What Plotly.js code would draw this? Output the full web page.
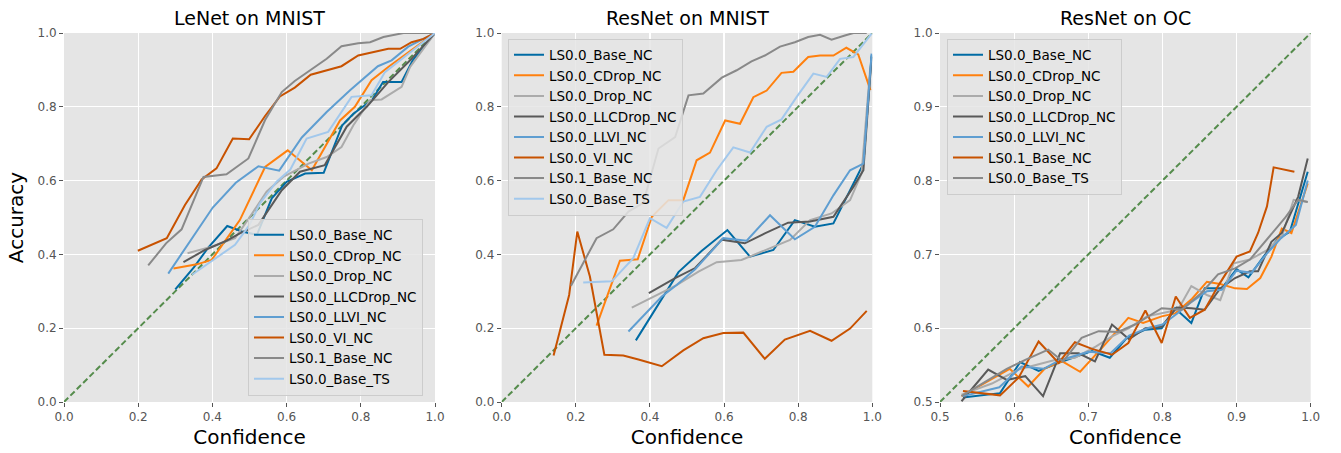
<!DOCTYPE html>
<html>
<head>
<meta charset="utf-8">
<script src="https://cdn.plot.ly/plotly-3.0.1.min.js"></script>
<style>html,body{margin:0;padding:0;background:#fff;}#chart{width:1341px;height:453px;}</style>
</head>
<body>
<div id="chart"></div>
<script>
// ---------- Panel 1: LeNet on MNIST ----------
const p1_base_nc_x = [0.30,0.35,0.39,0.44,0.48,0.52,0.56,0.60,0.65,0.70,0.75,0.78,0.83,0.86,0.91,0.94,1.00];
const p1_base_nc_y = [0.305,0.365,0.42,0.477,0.462,0.453,0.552,0.597,0.619,0.621,0.75,0.781,0.818,0.867,0.867,0.926,1.0];
const p1_cdrop_x = [0.295,0.358,0.398,0.474,0.542,0.603,0.668,0.708,0.744,0.784,0.829,0.874,0.937,1.0];
const p1_cdrop_y = [0.362,0.373,0.385,0.493,0.637,0.682,0.628,0.70,0.763,0.80,0.872,0.908,0.953,1.0];
const p1_drop_x = [0.333,0.398,0.461,0.50,0.546,0.591,0.659,0.708,0.748,0.78,0.825,0.856,0.91,0.933,1.0];
const p1_drop_y = [0.403,0.421,0.444,0.50,0.570,0.61,0.646,0.664,0.691,0.75,0.818,0.82,0.854,0.908,1.0];
const p1_llcdrop_x = [0.322,0.38,0.438,0.474,0.524,0.587,0.636,0.703,0.762,0.816,0.874,0.933,1.0];
const p1_llcdrop_y = [0.379,0.412,0.437,0.457,0.48,0.574,0.624,0.642,0.746,0.80,0.867,0.926,1.0];
const p1_llvi_x = [0.281,0.401,0.463,0.524,0.58,0.641,0.708,0.771,0.846,0.883,0.928,1.0];
const p1_llvi_y = [0.348,0.527,0.594,0.639,0.627,0.717,0.786,0.845,0.910,0.926,0.963,1.0];
const p1_vi_x = [0.199,0.277,0.326,0.371,0.411,0.455,0.499,0.542,0.582,0.622,0.665,0.708,0.748,0.793,0.834,0.874,0.906,0.937,0.969,1.0];
const p1_vi_y = [0.41,0.444,0.534,0.603,0.633,0.714,0.712,0.775,0.828,0.852,0.887,0.90,0.91,0.939,0.948,0.957,0.957,0.975,0.984,1.0];
const p1_ls01_x = [0.227,0.275,0.317,0.376,0.438,0.497,0.542,0.587,0.622,0.659,0.708,0.748,0.793,0.825,0.861,0.915,0.96,1.0];
const p1_ls01_y = [0.37,0.43,0.468,0.61,0.617,0.66,0.764,0.84,0.87,0.895,0.93,0.964,0.972,0.975,0.989,1.0,1.0,1.0];
const p1_ts_x = [0.345,0.402,0.461,0.50,0.528,0.573,0.61,0.654,0.712,0.775,0.829,0.865,0.928,1.0];
const p1_ts_y = [0.345,0.385,0.426,0.48,0.538,0.597,0.63,0.714,0.732,0.827,0.831,0.894,0.944,1.0];

// ---------- Panel 2: ResNet on MNIST ----------
const p2_base_nc_x = [0.362,0.42,0.477,0.54,0.609,0.67,0.733,0.791,0.845,0.895,0.949,0.976,0.998];
const p2_base_nc_y = [0.167,0.26,0.352,0.41,0.466,0.394,0.412,0.493,0.475,0.484,0.592,0.646,0.939];
const p2_cdrop_x = [0.256,0.319,0.367,0.405,0.45,0.49,0.526,0.562,0.603,0.643,0.679,0.715,0.755,0.787,0.827,0.859,0.895,0.930,0.962,0.995];
const p2_cdrop_y = [0.207,0.383,0.387,0.502,0.547,0.547,0.655,0.676,0.763,0.754,0.826,0.844,0.892,0.895,0.935,0.939,0.939,0.96,0.942,0.845];
const p2_drop_x = [0.351,0.41,0.472,0.531,0.58,0.647,0.701,0.778,0.832,0.89,0.94,0.971,0.994];
const p2_drop_y = [0.256,0.285,0.317,0.353,0.379,0.385,0.408,0.439,0.493,0.511,0.547,0.619,0.90];
const p2_llcdrop_x = [0.397,0.468,0.522,0.594,0.656,0.710,0.773,0.832,0.895,0.949,0.976,0.998];
const p2_llcdrop_y = [0.295,0.336,0.363,0.44,0.43,0.457,0.486,0.489,0.502,0.583,0.628,0.935];
const p2_llvi_x = [0.342,0.432,0.472,0.522,0.598,0.661,0.724,0.791,0.845,0.895,0.940,0.976,0.998];
const p2_llvi_y = [0.191,0.286,0.317,0.36,0.444,0.437,0.506,0.441,0.475,0.56,0.628,0.646,0.944];
const p2_vi_x = [0.14,0.182,0.204,0.238,0.277,0.328,0.369,0.432,0.490,0.544,0.598,0.652,0.710,0.764,0.832,0.890,0.940,0.985];
const p2_vi_y = [0.126,0.29,0.462,0.34,0.128,0.126,0.115,0.097,0.14,0.173,0.187,0.188,0.117,0.169,0.193,0.166,0.199,0.247];
const p2_ls01_x = [0.187,0.256,0.301,0.342,0.382,0.423,0.468,0.504,0.544,0.594,0.634,0.674,0.710,0.751,0.791,0.827,0.859,0.890,0.926,0.949,0.985];
const p2_ls01_y = [0.315,0.444,0.468,0.516,0.54,0.687,0.718,0.831,0.836,0.879,0.899,0.923,0.939,0.963,0.975,0.989,0.995,0.982,0.993,1.0,1.0];
const p2_ts_x = [0.220,0.297,0.355,0.40,0.445,0.49,0.535,0.58,0.625,0.67,0.715,0.755,0.796,0.841,0.877,0.913,0.949,0.998];
const p2_ts_y = [0.324,0.327,0.39,0.498,0.472,0.543,0.556,0.628,0.69,0.676,0.746,0.766,0.827,0.89,0.881,0.93,0.935,0.998];

// ---------- Panel 3: ResNet on OC ----------
const p3_base_nc_x = [0.531,0.581,0.608,0.633,0.660,0.705,0.729,0.752,0.777,0.799,0.817,0.839,0.857,0.880,0.900,0.916,0.938,0.955,0.972,0.996];
const p3_base_nc_y = [0.506,0.512,0.554,0.542,0.553,0.569,0.560,0.587,0.598,0.600,0.627,0.607,0.654,0.654,0.680,0.669,0.699,0.72,0.731,0.812];
const p3_cdrop_x = [0.529,0.594,0.619,0.642,0.665,0.689,0.72,0.754,0.774,0.799,0.817,0.84,0.860,0.878,0.898,0.914,0.932,0.947,0.961,0.974,0.996];
const p3_cdrop_y = [0.508,0.545,0.521,0.546,0.555,0.541,0.575,0.614,0.607,0.616,0.620,0.64,0.663,0.66,0.654,0.653,0.668,0.697,0.735,0.729,0.796];
const p3_drop_x = [0.529,0.57,0.606,0.63,0.655,0.682,0.71,0.732,0.755,0.779,0.80,0.821,0.839,0.860,0.878,0.896,0.918,0.94,0.961,0.977,0.996];
const p3_drop_y = [0.510,0.525,0.544,0.55,0.557,0.560,0.575,0.589,0.60,0.616,0.62,0.625,0.657,0.645,0.638,0.688,0.693,0.705,0.724,0.774,0.771];
const p3_llcdrop_x = [0.529,0.565,0.590,0.615,0.639,0.662,0.687,0.709,0.732,0.755,0.777,0.799,0.819,0.839,0.857,0.878,0.898,0.918,0.929,0.947,0.961,0.983,0.996];
const p3_llcdrop_y = [0.501,0.544,0.530,0.535,0.508,0.566,0.566,0.555,0.605,0.585,0.600,0.602,0.628,0.627,0.625,0.654,0.668,0.677,0.677,0.717,0.729,0.778,0.830];
const p3_llvi_x = [0.531,0.58,0.61,0.64,0.66,0.70,0.73,0.755,0.78,0.80,0.82,0.837,0.86,0.88,0.90,0.92,0.94,0.96,0.98,0.996];
const p3_llvi_y = [0.508,0.52,0.548,0.545,0.556,0.568,0.566,0.59,0.60,0.605,0.62,0.634,0.65,0.652,0.678,0.675,0.70,0.722,0.74,0.80];
const p3_ls01_x = [0.531,0.581,0.606,0.633,0.660,0.682,0.705,0.732,0.754,0.777,0.799,0.818,0.837,0.857,0.875,0.900,0.918,0.929,0.941,0.950,0.978];
const p3_ls01_y = [0.515,0.509,0.533,0.582,0.553,0.581,0.572,0.564,0.580,0.624,0.580,0.643,0.614,0.625,0.657,0.697,0.704,0.729,0.765,0.818,0.812];
const p3_ts_x = [0.529,0.565,0.59,0.615,0.646,0.666,0.691,0.714,0.74,0.763,0.799,0.826,0.853,0.875,0.898,0.918,0.943,0.965,0.983,0.996];
const p3_ts_y = [0.508,0.53,0.545,0.557,0.571,0.555,0.587,0.596,0.595,0.605,0.627,0.625,0.648,0.673,0.681,0.693,0.722,0.749,0.774,0.771];

const diag1 = [0, 1];
const diag3 = [0.5, 1];

const C = {
  base: '#006BA4', cdrop: '#FF800E', drop: '#ABABAB', llc: '#595959',
  llvi: '#5F9ED1', vi: '#C85200', ls01: '#898989', ts: '#A2C8EC', diag: '#558c4c'
};

function tr(x, y, name, color, ax, leg) {
  return {x: x, y: y, name: name, type: 'scatter', mode: 'lines',
    line: {color: color, width: 2}, xaxis: 'x' + ax, yaxis: 'y' + ax,
    legend: leg, showlegend: true};
}
function dg(d, ax) {
  return {x: d, y: d, type: 'scatter', mode: 'lines', showlegend: false,
    line: {color: C.diag, width: 2, dash: '6px,3px'}, xaxis: 'x' + ax, yaxis: 'y' + ax, hoverinfo: 'skip'};
}

const traces = [
  dg(diag1, ''),
  tr(p1_base_nc_x, p1_base_nc_y, 'LS0.0_Base_NC', C.base, '', 'legend'),
  tr(p1_cdrop_x, p1_cdrop_y, 'LS0.0_CDrop_NC', C.cdrop, '', 'legend'),
  tr(p1_drop_x, p1_drop_y, 'LS0.0_Drop_NC', C.drop, '', 'legend'),
  tr(p1_llcdrop_x, p1_llcdrop_y, 'LS0.0_LLCDrop_NC', C.llc, '', 'legend'),
  tr(p1_llvi_x, p1_llvi_y, 'LS0.0_LLVI_NC', C.llvi, '', 'legend'),
  tr(p1_vi_x, p1_vi_y, 'LS0.0_VI_NC', C.vi, '', 'legend'),
  tr(p1_ls01_x, p1_ls01_y, 'LS0.1_Base_NC', C.ls01, '', 'legend'),
  tr(p1_ts_x, p1_ts_y, 'LS0.0_Base_TS', C.ts, '', 'legend'),

  dg(diag1, '2'),
  tr(p2_base_nc_x, p2_base_nc_y, 'LS0.0_Base_NC', C.base, '2', 'legend2'),
  tr(p2_cdrop_x, p2_cdrop_y, 'LS0.0_CDrop_NC', C.cdrop, '2', 'legend2'),
  tr(p2_drop_x, p2_drop_y, 'LS0.0_Drop_NC', C.drop, '2', 'legend2'),
  tr(p2_llcdrop_x, p2_llcdrop_y, 'LS0.0_LLCDrop_NC', C.llc, '2', 'legend2'),
  tr(p2_llvi_x, p2_llvi_y, 'LS0.0_LLVI_NC', C.llvi, '2', 'legend2'),
  tr(p2_vi_x, p2_vi_y, 'LS0.0_VI_NC', C.vi, '2', 'legend2'),
  tr(p2_ls01_x, p2_ls01_y, 'LS0.1_Base_NC', C.ls01, '2', 'legend2'),
  tr(p2_ts_x, p2_ts_y, 'LS0.0_Base_TS', C.ts, '2', 'legend2'),

  dg(diag3, '3'),
  tr(p3_base_nc_x, p3_base_nc_y, 'LS0.0_Base_NC', C.base, '3', 'legend3'),
  tr(p3_cdrop_x, p3_cdrop_y, 'LS0.0_CDrop_NC', C.cdrop, '3', 'legend3'),
  tr(p3_drop_x, p3_drop_y, 'LS0.0_Drop_NC', C.drop, '3', 'legend3'),
  tr(p3_llcdrop_x, p3_llcdrop_y, 'LS0.0_LLCDrop_NC', C.llc, '3', 'legend3'),
  tr(p3_llvi_x, p3_llvi_y, 'LS0.0_LLVI_NC', C.llvi, '3', 'legend3'),
  tr(p3_ls01_x, p3_ls01_y, 'LS0.1_Base_NC', C.vi, '3', 'legend3'),
  tr(p3_ts_x, p3_ts_y, 'LS0.0_Base_TS', C.ls01, '3', 'legend3')
];

const F = 'DejaVu Sans, sans-serif';
const W = 1341;
function xa(d0, d1, rng, dt, anchor) {
  return {domain: [d0 / W, d1 / W], range: rng, dtick: dt, tick0: rng[0], anchor: anchor,
    showgrid: true, gridcolor: '#ffffff', gridwidth: 1.2, zeroline: false, showline: false,
    ticks: 'outside', ticklen: 4, tickcolor: '#555555', tickwidth: 1,
    tickfont: {family: F, size: 12, color: '#555555'}, tickformat: '.1f',
    title: {text: 'Confidence', font: {family: F, size: 20, color: '#000'}, standoff: 6}};
}
function ya(rng, dt, anchor, title) {
  const o = {domain: [0, 1], range: rng, dtick: dt, tick0: rng[0], anchor: anchor,
    showgrid: true, gridcolor: '#ffffff', gridwidth: 1.2, zeroline: false, showline: false,
    ticks: 'outside', ticklen: 4, tickcolor: '#555555', tickwidth: 1,
    tickfont: {family: F, size: 12, color: '#555555'}, tickformat: '.1f'};
  if (title) o.title = {text: title, font: {family: F, size: 20, color: '#000'}, standoff: 8};
  return o;
}
function lg(x, y, ya) {
  return {x: x, y: y, xanchor: 'left', yanchor: ya, xref: 'paper', yref: 'paper',
    bgcolor: 'rgba(229,229,229,0.85)', bordercolor: '#cccccc', borderwidth: 1,
    font: {family: F, size: 13.5, color: '#000'}, tracegroupgap: 0, itemwidth: 30};
}

const layout = {
  width: 1341, height: 453,
  margin: {l: 0, r: 0, t: 32.5, b: 50.5},
  paper_bgcolor: '#ffffff', plot_bgcolor: '#E5E5E5',
  font: {family: F},
  showlegend: true,
  xaxis: xa(64, 435, [0, 1], 0.2, 'y'),
  yaxis: ya([0, 1], 0.2, 'x', 'Accuracy'),
  xaxis2: xa(501.7, 872.3, [0, 1], 0.2, 'y2'),
  yaxis2: ya([0, 1], 0.2, 'x2'),
  xaxis3: xa(940, 1310.7, [0.5, 1], 0.1, 'y3'),
  yaxis3: ya([0.5, 1], 0.1, 'x3'),
  legend: lg(248 / W, 0.0176, 'bottom'),
  legend2: lg(508 / W, 0.985, 'top'),
  legend3: lg(947 / W, 0.985, 'top'),
  annotations: [
    {text: 'LeNet on MNIST', x: (64 + 435) / 2 / W, y: 1, xref: 'paper', yref: 'paper', xanchor: 'center', yanchor: 'bottom', yshift: 2, showarrow: false, font: {family: F, size: 19, color: '#000'}},
    {text: 'ResNet on MNIST', x: (501.7 + 872.3) / 2 / W, y: 1, xref: 'paper', yref: 'paper', xanchor: 'center', yanchor: 'bottom', yshift: 2, showarrow: false, font: {family: F, size: 19, color: '#000'}},
    {text: 'ResNet on OC', x: (940 + 1310.7) / 2 / W, y: 1, xref: 'paper', yref: 'paper', xanchor: 'center', yanchor: 'bottom', yshift: 2, showarrow: false, font: {family: F, size: 19, color: '#000'}}
  ]
};

Plotly.newPlot('chart', traces, layout, {displayModeBar: false, staticPlot: true});
</script>
</body>
</html>
